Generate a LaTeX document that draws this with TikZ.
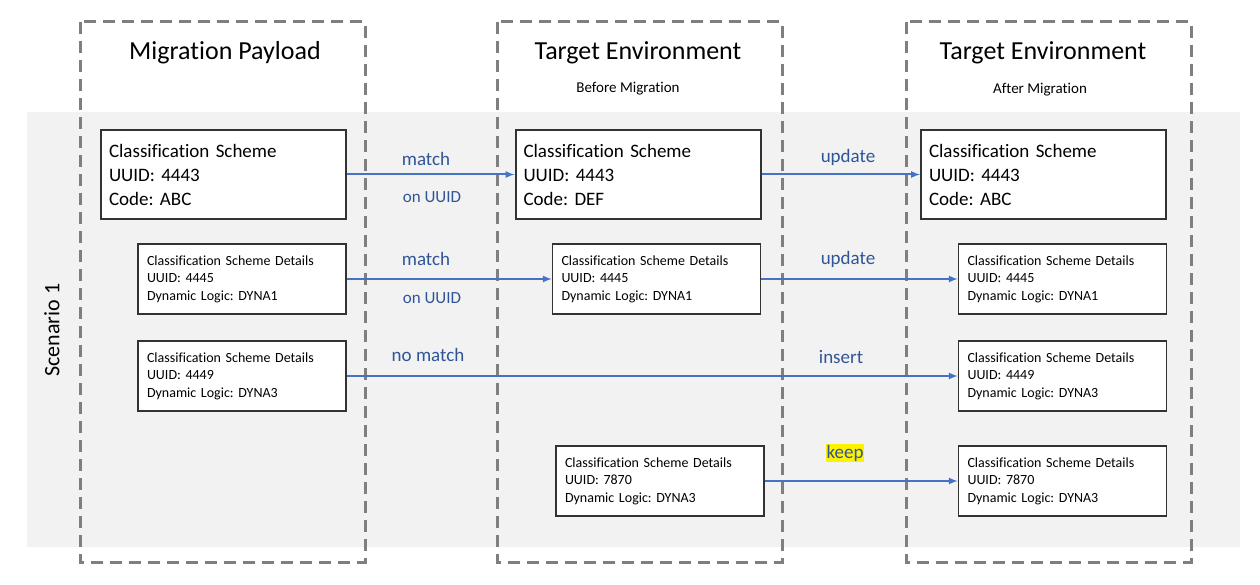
\documentclass[tikz,border=0pt]{standalone}
\usepackage{fontspec}
\setmainfont{Carlito}[RawFeature={-liga}]
\frenchspacing
\definecolor{arr}{HTML}{4472C4}
\definecolor{lab}{HTML}{2F5597}
\definecolor{dash}{HTML}{7F7F7F}
\begin{document}
\begin{tikzpicture}[x=1pt,y=-1pt,
 big/.style={draw=black!80,line width=2pt,fill=white,inner sep=8pt,align=left,font=\fontsize{19}{24}\selectfont,text width=229pt,minimum height=89pt},
 small/.style={draw=black!80,line width=1.6pt,fill=white,inner sep=9pt,align=left,font=\fontsize{14}{17.5}\selectfont,text width=190pt,minimum height=70pt},
 col/.style={draw=dash,line width=3pt,dash pattern=on 12pt off 7pt},
 ar/.style={draw=arr,line width=2pt,-latex},
 lb/.style={text=lab,font=\fontsize{19}{22}\selectfont}]
\useasboundingbox (0,0) rectangle (1260,585);
\fill[black!5] (27,112) rectangle (1240,547);
\draw[col] (80,22) rectangle (365,562);
\draw[col] (497,22) rectangle (782,562);
\draw[col] (906,22) rectangle (1191,562);
\node[font=\fontsize{26}{30}\selectfont] (h1) at (225,53) {Migration Payload};
\node[font=\fontsize{26}{30}\selectfont] (h2) at (638,53) {Target Environment};
\node[font=\fontsize{15}{18}\selectfont] (s2) at (628,89) {Before Migration};
\node[font=\fontsize{26}{30}\selectfont] (h3) at (1043,53) {Target Environment};
\node[font=\fontsize{15}{18}\selectfont] (s3) at (1040,90) {After Migration};
\node[rotate=90,font=\fontsize{22}{26}\selectfont] (sc) at (52,330) {Scenario 1};
\node[big] (A1) at (223.5,174.5) {Classification Scheme\\UUID: 4443\\Code: ABC};
\node[big] (B1) at (638,174.5) {Classification Scheme\\UUID: 4443\\Code: DEF};
\node[big] (C1) at (1043.5,174.5) {Classification Scheme\\UUID: 4443\\Code: ABC};
\node[small] (A2) at (242,279) {Classification Scheme Details\\UUID: 4445\\Dynamic Logic: DYNA1};
\node[small] (B2) at (656.5,279) {Classification Scheme Details\\UUID: 4445\\Dynamic Logic: DYNA1};
\node[small] (C2) at (1062.5,279) {Classification Scheme Details\\UUID: 4445\\Dynamic Logic: DYNA1};
\node[small] (A3) at (242,376) {Classification Scheme Details\\UUID: 4449\\Dynamic Logic: DYNA3};
\node[small] (C3) at (1062.5,376) {Classification Scheme Details\\UUID: 4449\\Dynamic Logic: DYNA3};
\node[small] (B4) at (660,481) {Classification Scheme Details\\UUID: 7870\\Dynamic Logic: DYNA3};
\node[small] (C4) at (1062.5,481) {Classification Scheme Details\\UUID: 7870\\Dynamic Logic: DYNA3};
\draw[ar] (A1.east) -- (B1.west);
\draw[ar] (B1.east) -- (C1.west);
\draw[ar] (A2.east) -- (B2.west);
\draw[ar] (B2.east) -- (C2.west);
\draw[ar] (A3.east) -- (C3.west);
\draw[ar] (B4.east) -- (C4.west);
\node[lb] (l1) at (426,159) {match};
\node[lb,font=\fontsize{17}{20}\selectfont] (l2) at (432,197) {on UUID};
\node[lb] (l3) at (848,157) {update};
\node[lb] (l4) at (426,259) {match};
\node[lb,font=\fontsize{17}{20}\selectfont] (l5) at (432,298) {on UUID};
\node[lb] (l6) at (848,259) {update};
\node[lb] (l7) at (428,355) {no match};
\node[lb] (l8) at (841,357) {insert};
\node[lb,fill=yellow,inner sep=1pt,text=lab] (l9) at (845,453) {keep};
\end{tikzpicture}
\end{document}
